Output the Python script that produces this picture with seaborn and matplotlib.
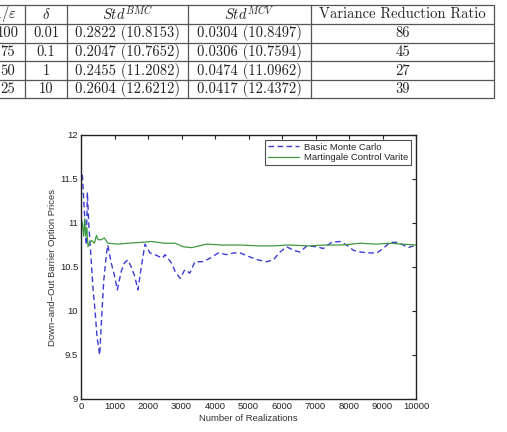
import matplotlib
matplotlib.use("Agg")
import matplotlib.pyplot as plt
from matplotlib.lines import Line2D
import seaborn as sns
import pandas as pd

# --- data ---
n_bmc = [0, 40, 120, 160, 190, 230, 300, 360, 420, 480, 557, 620, 680, 760, 800,
         900, 1000, 1085, 1200, 1300, 1400, 1500, 1600, 1700, 1800, 1910, 2060,
         2210, 2430, 2510, 2710, 2810, 2960, 3100, 3250, 3400, 3650, 3850, 4100,
         4350, 4550, 4750, 5000, 5290, 5540, 5740, 5940, 6140, 6340, 6540, 6740,
         7040, 7230, 7480, 7730, 7930, 8130, 8330, 8580, 8830, 9020, 9220, 9420,
         9620, 9770, 10000]
price_bmc = [11.45, 11.55, 11.0, 10.75, 11.35, 11.0, 10.6, 10.25, 10.0, 9.7, 9.5,
             9.95, 10.35, 10.65, 10.75, 10.55, 10.4, 10.24, 10.45, 10.55, 10.58,
             10.5, 10.4, 10.24, 10.5, 10.76, 10.66, 10.64, 10.6, 10.64, 10.54,
             10.45, 10.37, 10.47, 10.43, 10.56, 10.56, 10.6, 10.66, 10.64, 10.66,
             10.66, 10.62, 10.58, 10.56, 10.58, 10.67, 10.73, 10.69, 10.67, 10.74,
             10.73, 10.71, 10.78, 10.79, 10.75, 10.69, 10.67, 10.66, 10.66, 10.71,
             10.78, 10.78, 10.75, 10.72, 10.75]

n_mcv = [0, 40, 80, 110, 140, 170, 210, 260, 320, 400, 460, 510, 600, 700, 800,
         1100, 1400, 1800, 2100, 2500, 2810, 3050, 3300, 3750, 4200, 4750, 5300,
         5740, 6200, 6800, 7300, 7800, 8330, 8800, 9220, 9600, 10000]
price_mcv = [11.05, 11.0, 10.85, 11.05, 10.85, 10.95, 10.73, 10.78, 10.8, 10.77,
             10.86, 10.81, 10.81, 10.83, 10.77, 10.76, 10.77, 10.78, 10.79, 10.77,
             10.77, 10.73, 10.72, 10.76, 10.75, 10.75, 10.74, 10.74, 10.75, 10.74,
             10.75, 10.75, 10.77, 10.76, 10.77, 10.76, 10.75]

# table above the figure
inv_eps = ["100", "75", "50", "25"]
deltas = ["0.01", "0.1", "1", "10"]
std_bmc = ["0.2822 (10.8153)", "0.2047 (10.7652)", "0.2455 (11.2082)", "0.2604 (12.6212)"]
std_mcv = ["0.0304 (10.8497)", "0.0306 (10.7594)", "0.0474 (11.0962)", "0.0417 (12.4372)"]
ratios = ["86", "45", "27", "39"]
headers = [r"$1/\varepsilon$", r"$\delta$", r"$Std^{BMC}$", r"$Std^{MCV}$", "Variance Reduction Ratio"]

sns.set_style("white")
plt.rcParams["font.family"] = ["Liberation Sans", "DejaVu Sans"]
plt.rcParams["mathtext.fontset"] = "cm"

W, H = 507, 432
fig = plt.figure(figsize=(W / 100, H / 100), dpi=100)

# ---- table (pixel coords -> figure fraction) ----
def fx(px):
    return px / W

def fy(py):
    return 1 - py / H

col_edges = [-30, 25, 67, 188, 311, 494]
row_edges = [5, 24, 42.6, 61.3, 80, 98.3]
for y in row_edges:
    fig.add_artist(Line2D([fx(col_edges[0]), fx(col_edges[-1])], [fy(y), fy(y)],
                          color="#555555", lw=0.9))
for x in col_edges[1:]:
    fig.add_artist(Line2D([fx(x), fx(x)], [fy(row_edges[0]), fy(row_edges[-1])],
                          color="#555555", lw=0.9))

centers = [8, 46, 127.5, 249.5, 402.5]
tkw = dict(ha="center", va="center", fontsize=10.5, color="#222222", family="cmr10")
for c, h in zip([5] + centers[1:], headers):
    fig.text(fx(c), fy((row_edges[0] + row_edges[1]) / 2), h, **tkw)
rows = list(zip(inv_eps, deltas, std_bmc, std_mcv, ratios))
for i, row in enumerate(rows):
    yc = (row_edges[i + 1] + row_edges[i + 2]) / 2
    for c, val in zip(centers, row):
        fig.text(fx(c), fy(yc), val, **tkw)

# ---- chart ----
ax = fig.add_axes([81 / W, 1 - 399 / H, (416 - 81) / W, (399 - 135) / H])
df_bmc = pd.DataFrame({"n": n_bmc, "price": price_bmc})
df_mcv = pd.DataFrame({"n": n_mcv, "price": price_mcv})
sns.lineplot(data=df_bmc, x="n", y="price", ax=ax, color="#3b3bd4", lw=1.0,
             estimator=None, label="Basic Monte Carlo")
sns.lineplot(data=df_mcv, x="n", y="price", ax=ax, color="#3f9a3f", lw=0.9,
             estimator=None, label="Martingale Control Varite")
ax.lines[0].set_dashes((4, 2.5))

ax.set_xlim(0, 10000)
ax.set_ylim(9, 12)
ax.set_xticks(range(0, 10001, 1000))
ax.set_yticks([9, 9.5, 10, 10.5, 11, 11.5, 12])
ax.set_yticklabels(["9", "9.5", "10", "10.5", "11", "11.5", "12"])
ax.tick_params(direction="in", length=3, width=0.8, labelsize=6.8, colors="#222222",
               top=True, right=True, pad=2)
for s in ax.spines.values():
    s.set_color("#222222")
    s.set_linewidth(1.0)
ax.set_xlabel("Number of Realizations", fontsize=6.8, color="#333333", labelpad=2.5)
ax.set_ylabel("Down\u2212and\u2212Out Barrier Option Prices", fontsize=6.8,
              color="#333333", labelpad=2)
leg = ax.legend(loc="upper right", fontsize=6.8, frameon=True, fancybox=False,
                edgecolor="#222222", handlelength=3.3, borderpad=0.3,
                labelspacing=0.2, handletextpad=0.5, borderaxespad=0.5)
leg.get_frame().set_linewidth(0.8)
leg.get_lines()[0].set_dashes((4, 2.5))

fig.savefig("out.png", dpi=100)
